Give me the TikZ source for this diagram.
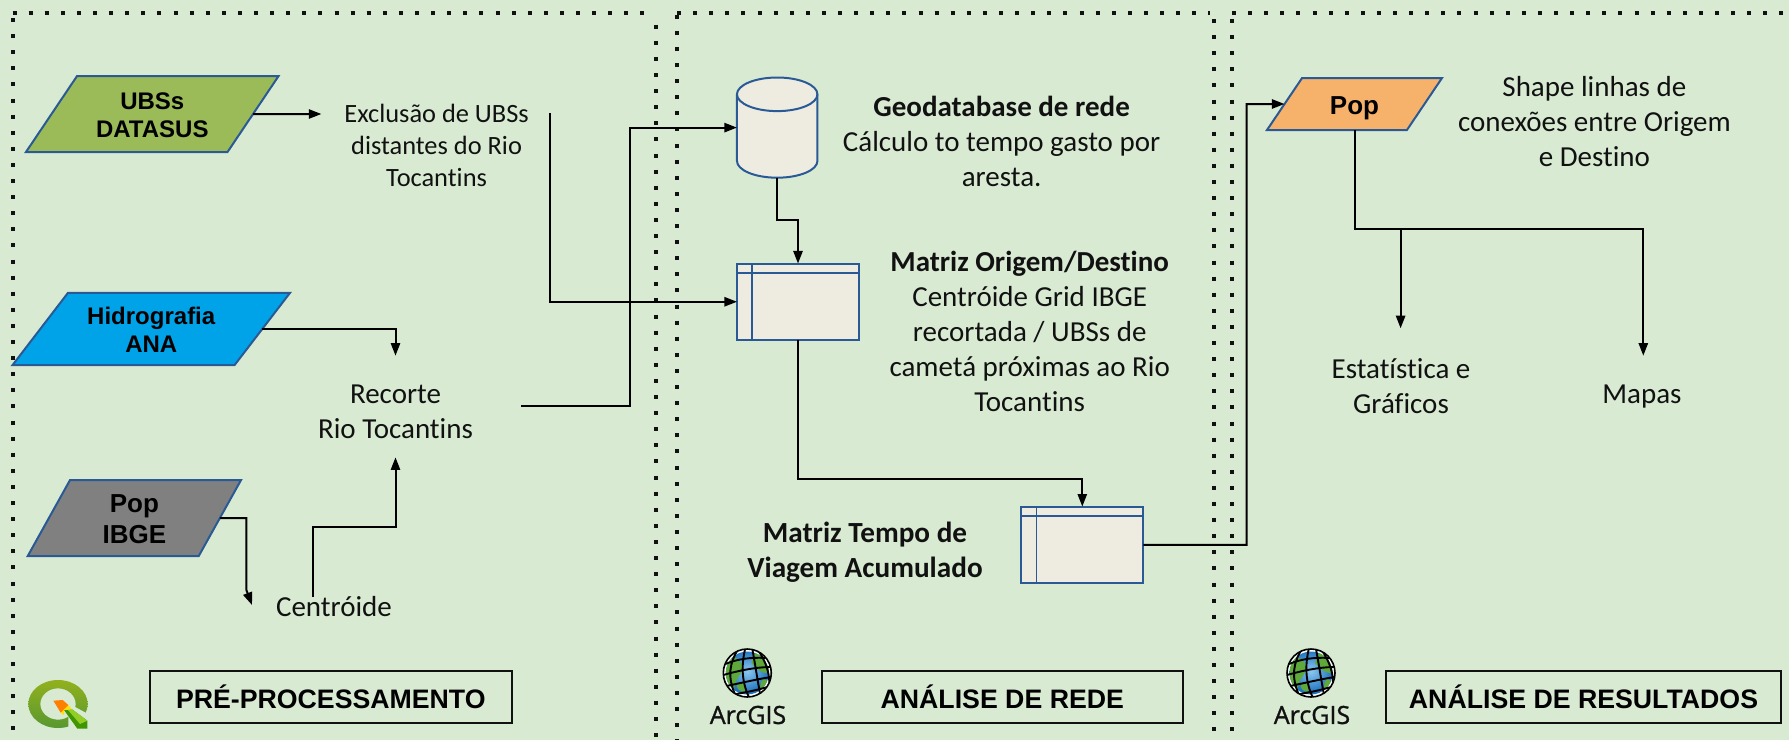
\documentclass[tikz,border=0pt]{standalone}
\usepackage{fontspec}
\usetikzlibrary{arrows.meta,shapes.geometric,calc}
\setmainfont[Ligatures=NoCommon]{Carlito}
\newfontfamily\boxfont{Liberation Sans}
\newfontfamily\arclogo[FakeBold=1.2]{Open Sans}
\definecolor{bgc}{HTML}{D9EAD3}
\definecolor{edge}{HTML}{2A5A96}
\definecolor{paper}{HTML}{EEECE1}
\definecolor{ink}{HTML}{111111}
\definecolor{globein}{HTML}{8CC8F0}
\definecolor{globeout}{HTML}{1268B8}
\definecolor{globeland}{HTML}{5FA83A}
\definecolor{ubsc}{HTML}{9BBB59}
\definecolor{anac}{HTML}{00A2E8}
\definecolor{ibgec}{HTML}{808080}
\definecolor{popc}{HTML}{F6B26B}
\tikzset{
  dotline/.style={draw=ink,line width=2pt,dash pattern=on 2pt off 6.05pt},
  para/.style={shape=trapezium,trapezium stretches body,draw=edge,line width=1pt,inner sep=0pt,outer sep=0pt},
  paratxt/.style={align=center,inner sep=0pt,text=black,font=\boxfont\bfseries\fontsize{12}{14}\selectfont},
  txt/.style={align=center,inner sep=0pt,font=\fontsize{14.5}{17.5}\selectfont,text=ink},
  btxt/.style={txt,font=\bfseries\fontsize{14.6}{17.5}\selectfont},
  conn/.style={draw=black,line width=1pt,-{Triangle[length=6.3pt,width=4.6pt]}},
  tbl/.style={draw=edge,fill=paper,line width=0.95pt,minimum width=61pt,minimum height=38.2pt,inner sep=0pt,outer sep=0pt},
  phase/.style={draw=ink,line width=1pt,inner sep=0pt,outer sep=0pt,font=\boxfont\bfseries\fontsize{13.35}{15}\selectfont,text=black},
  logotxt/.style={inner sep=0pt,font=\arclogo\fontsize{12.5}{14}\selectfont,text=ink}
}
\newcommand{\globelogo}[2]{%
  \begin{scope}[shift={(#1,#2)}]
    \fill[white] (0,0) circle[radius=24];
    \begin{scope}
      \clip (0,0) circle[radius=21.5];
      \shade[inner color=globein,outer color=globeout] (0,-2) circle[radius=24];
      \fill[globeland] (-24,-14) .. controls (-12,-20) and (-6,-12) .. (-4,-4) .. controls (-8,4) and (-16,10) .. (-12,24) -- (-26,24) -- cycle;
      \fill[globeland] (8,-20) .. controls (18,-18) and (22,-10) .. (24,-2) .. controls (16,4) and (8,-6) .. (4,-10) -- cycle;
      \fill[globeland] (-10,10) .. controls (-4,6) and (0,14) .. (-2,18) .. controls (-6,20) and (-12,16) .. (-10,10) -- cycle;
      \fill[globeland] (16,6) .. controls (22,6) and (22,14) .. (16,20) .. controls (12,16) and (12,10) .. (16,6) -- cycle;
    \end{scope}
    \draw[black,line width=0.8pt] (0,0) circle[radius=24];
    \begin{scope}
      \clip (0,0) circle[radius=23.5];
      \draw[black,line width=0.95pt]
        (-9,-24) .. controls (-18,-10) and (-20,4) .. (-12,22)
        (-2,-25) .. controls (-6,-8) and (-6,8) .. (2,25)
        (5,-24) .. controls (8,-8) and (10,6) .. (13,22)
        (12,-21) .. controls (19,-10) and (22,0) .. (22,10)
        (-22,-9) .. controls (-10,-14) and (4,-16) .. (18,-15)
        (-24,2) .. controls (-10,-2) and (8,-6) .. (24,-6)
        (-21,13) .. controls (-6,10) and (10,6) .. (24,4)
        (-11,21) .. controls (0,19) and (10,17) .. (20,14);
    \end{scope}
  \end{scope}}
\begin{document}
\begin{tikzpicture}[x=0.5pt,y=-0.5pt]
\useasboundingbox (0,0) rectangle (1789,740);
\fill[bgc] (0,0) rectangle (1789,740);

% frames of dots
\draw[dotline] (12.5,12.7) -- (656,12.7);
\draw[dotline] (677,12.7) -- (1210,12.7);
\draw[dotline] (1232,12.7) -- (1789,12.7);
\draw[dotline] (12.5,18) -- (12.5,740);
\draw[dotline] (656,24.7) -- (656,740);
\draw[dotline] (677,14.7) -- (677,740);
\draw[dotline] (1214.3,19) -- (1214.3,740);
\draw[dotline] (1232.3,19) -- (1232.3,740);

% data nodes
\node[para,fill=ubsc,trapezium left angle=56.1,trapezium right angle=123.9,minimum width=126.3pt,minimum height=38pt,text height=38pt,text depth=0pt] (ubs) at (152.3,114) {};
\node[paratxt] (ubst) at (152.3,115) {UBSs\\DATASUS};
\node[para,fill=anac,trapezium left angle=52.5,trapezium right angle=127.5,minimum width=138.75pt,minimum height=36.15pt,text height=36.15pt,text depth=0pt] (hidro) at (151.25,329) {};
\node[paratxt] (hidrot) at (151.25,330) {Hidrografia\\ANA};
\node[para,fill=ibgec,trapezium left angle=60.9,trapezium right angle=119.1,minimum width=106.65pt,minimum height=38pt,text height=38pt,text depth=0pt] (ibge) at (134.4,518) {};
\node[paratxt,font=\boxfont\bfseries\fontsize{13}{15.5}\selectfont] (ibget) at (134.4,519) {Pop\\IBGE};
\node[para,fill=popc,trapezium left angle=56,trapezium right angle=124,minimum width=87.5pt,minimum height=26pt,text height=26pt,text depth=0pt] (pop) at (1354.5,104) {};
\node[paratxt,font=\boxfont\bfseries\fontsize{13}{15.5}\selectfont,text height=9.3pt,text depth=0pt] (popt) at (1354.5,105) {Pop};

% store and tables
\node[minimum width=40.25pt,minimum height=50.1pt,inner sep=0pt,outer sep=0pt] (db) at (777.2,127.6) {};
\draw[edge,line width=1pt,fill=paper] ([yshift=-8.4pt]db.north west) -- ([yshift=8.4pt]db.south west)
  arc[start angle=180,end angle=360,x radius=20.125pt,y radius=8.4pt]
  -- ([yshift=-8.4pt]db.north east)
  arc[start angle=0,end angle=180,x radius=20.125pt,y radius=8.4pt] -- cycle;
\draw[edge,line width=1pt] ([yshift=-8.4pt]db.north west)
  arc[start angle=180,end angle=360,x radius=20.125pt,y radius=8.4pt];
\node[tbl] (m1) at (798,301.75) {};
\node[tbl] (m2) at (1082.3,544.8) {};
\foreach \m in {m1,m2}{
  \draw[edge,line width=0.95pt] ([xshift=7.6pt]\m.north west) -- ([xshift=7.6pt]\m.south west);
  \draw[edge,line width=0.95pt] ([yshift=-4.9pt]\m.north west) -- ([yshift=-4.9pt]\m.north east);
}

% process texts
\node[txt,font=\fontsize{13.2}{16}\selectfont] (excl) at (436.6,145) {Exclusão de UBSs\\distantes do Rio\\Tocantins};
\node[txt] (rec) at (395.5,411.5) {Recorte\\Rio Tocantins};
\node[txt] (cen) at (334,606.7) {Centróide};
\node[txt] (geo) at (1001.6,141.5) {\textbf{Geodatabase de rede}\\Cálculo to tempo gasto por\\aresta.};
\node[txt] (od) at (1029.7,331) {\textbf{Matriz Origem/Destino}\\Centróide Grid IBGE\\recortada / UBSs de\\cametá próximas ao Rio\\Tocantins};
\node[btxt] (tv) at (865,552.5) {Matriz Tempo de\\Viagem Acumulado};
\node[txt] (shp) at (1594.4,122) {Shape linhas de\\conexões entre Origem\\e Destino};
\node[txt] (est) at (1401,385.7) {Estatística e\\Gráficos};
\node[txt] (map) at (1642,397) {Mapas};

% phase labels
\node[phase,minimum width=180.8pt,minimum height=26pt] (p1) at (330.8,696.7) {PRÉ-PROCESSAMENTO};
\node[phase,minimum width=180.75pt,minimum height=26pt] (p2) at (1002.3,697) {ANÁLISE DE REDE};
\node[phase,minimum width=197.5pt,minimum height=26pt] (p3) at (1583.5,697) {ANÁLISE DE RESULTADOS};

% free connector ends
\coordinate (a1) at (321.4,114);
\coordinate (a2) at (550.4,113);
\coordinate (a3) at (395.5,355.7);
\coordinate (a4) at (521.4,406);
\coordinate (a5) at (252,605);
\coordinate (a6) at (312.5,596.7);
\coordinate (a7) at (395.5,457.3);
\coordinate (a8) at (1400.6,328.3);
\coordinate (a9) at (1643.3,355.7);
\coordinate (b1) at (1400.6,229.3);

% connectors
\draw[conn] (ubs.east) -- (a1);
\draw[conn] (a2) |- (m1.west);
\draw[conn] (hidro.east) -| (a3);
\draw[conn] (a4) -- (629.5,406) -- (629.5,127.6) -- (db.west);
\draw[conn] (ibge.east) -- (246.4,518) -- (246.4,590) -- (a5);
\draw[conn] (a6) -- (312.5,526.7) -- (395.5,526.7) -- (a7);
\draw[conn] (db.south) -- (777.2,220) -- (798,220) -- (m1.north);
\draw[conn] (m1.south) -- (798,479.3) -- (1082.3,479.3) -- (m2.north);
\draw[conn] (m2.east) -- (1246.7,544.8) -- (1246.7,104) -- (pop.west);
\draw[conn] (pop.south) -- (1354.5,229.3) -- (1643.3,229.3) -- (a9);
\draw[conn] (b1) -- (a8);

% QGIS logo
\begin{scope}[shift={(0,650)},x=0.16667pt,y=-0.16667pt]
  \shade[top color={rgb,255:red,146;green,176;blue,30},bottom color={rgb,255:red,88;green,152;blue,48},even odd rule]
    (174,162) ellipse[x radius=89,y radius=72] (174,162) ellipse[x radius=53,y radius=47];
  \fill[bgc] (205,160) -- (270,195) -- (270,240) -- (205,240) -- cycle;
  \fill[green!45!black!75!yellow] (192,180) -- (216,178) -- (262,212) -- (262,236) -- (232,236) -- cycle;
  \fill[green!55!black!50!yellow!85] (216,178) -- (262,212) -- (240,222) -- (204,180) -- cycle;
  \fill[yellow!85!orange] (182,188) -- (205,165) -- (216,178) -- (192,180) -- (192,196) -- cycle;
  \fill[orange] (160,152) -- (188,150) -- (205,165) -- (182,188) -- cycle;
\end{scope}

% ArcGIS logos
\globelogo{747.3}{673}
\node[logotxt] (arc1) at (748,715) {ArcGIS};
\globelogo{1311}{673}
\node[logotxt] (arc2) at (1312,715) {ArcGIS};
\end{tikzpicture}
\end{document}
